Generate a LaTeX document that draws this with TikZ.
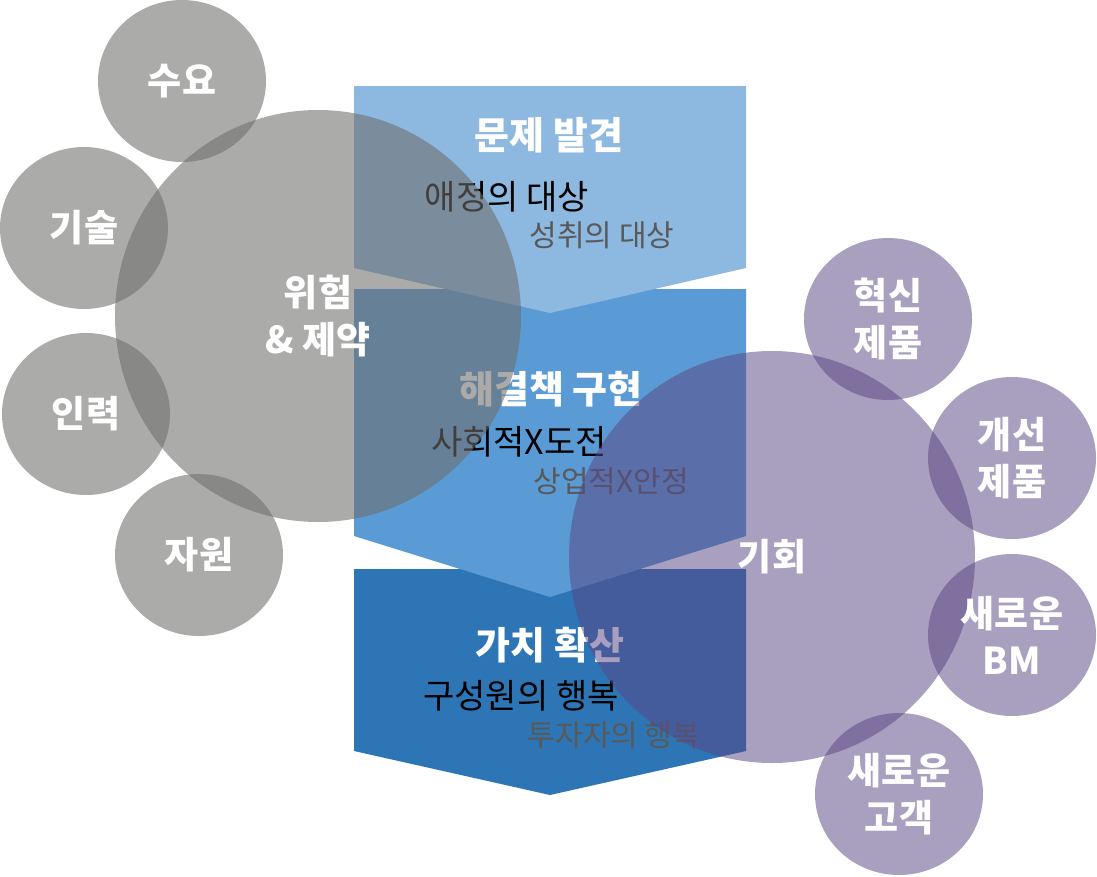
\documentclass[tikz,border=0pt]{standalone}
\usepackage{fontspec}
\setmainfont{Noto Sans CJK KR}
\usetikzlibrary{shapes.geometric}
\definecolor{chevA}{RGB}{141,184,224}
\definecolor{chevB}{RGB}{91,155,213}
\definecolor{chevC}{RGB}{46,117,182}
\definecolor{riskgray}{RGB}{111,110,108}
\definecolor{chancepurple}{RGB}{90,70,132}
\definecolor{subgray}{RGB}{89,89,89}
\begin{document}
\begin{tikzpicture}[x=1pt,y=-1pt,
    head/.style={inner sep=0pt,text=white,font=\fontsize{38}{44}\selectfont\bfseries},
    mainline/.style={inner sep=0pt,text=black,font=\fontsize{34}{40}\selectfont},
    subline/.style={inner sep=0pt,text=subgray,font=\fontsize{30}{36}\selectfont},
    bigblob/.style={ellipse,inner sep=0pt,minimum width=406pt,minimum height=412pt,
        fill opacity=0.58,text opacity=1,text=white,align=center,
        font=\fontsize{37}{47}\selectfont\bfseries},
    smallblob/.style={bigblob,minimum width=168pt,minimum height=162pt}]
    \useasboundingbox (0,0) rectangle (1097,876);
    % chevrons, lowest first so each tip lies on the next one
    \fill[chevC] (354,569) -- (746,569) -- (746,751) -- (550,795) -- (354,751) -- cycle;
    \fill[chevB] (354,289) -- (746,289) -- (746,536) -- (550,597) -- (354,536) -- cycle;
    \fill[chevA] (354,86) -- (746,86) -- (746,268) -- (550,313) -- (354,268) -- cycle;
    \node[head] (prob) at (549,135) {문제 발견};
    \node[mainline] (probA) at (507,197) {애정의 대상};
    \node[subline] (probB) at (602,235) {성취의 대상};
    \node[head] (sol) at (551,389) {해결책 구현};
    \node[mainline] (solA) at (519,442) {사회적X도전};
    \node[subline] (solB) at (611,481) {상업적X안정};
    \node[head] (val) at (550,645) {가치 확산};
    \node[mainline] (valA) at (521,696) {구성원의 행복};
    \node[subline] (valB) at (614,735) {투자자의 행복};
    % risks
    \node[bigblob,fill=riskgray] (risk) at (318,316) {위험\\\& 제약};
    \node[smallblob,fill=riskgray] (demand) at (182,81) {수요};
    \node[smallblob,fill=riskgray] (tech) at (84,228) {기술};
    \node[smallblob,fill=riskgray] (labor) at (86,414) {인력};
    \node[smallblob,fill=riskgray] (resource) at (199,555) {자원};
    % chances
    \node[bigblob,fill=chancepurple,fill opacity=0.52] (chance) at (772,557) {기회};
    \node[smallblob,fill=chancepurple,fill opacity=0.52] (innov) at (888,319) {혁신\\제품};
    \node[smallblob,fill=chancepurple,fill opacity=0.52] (improve) at (1012,458) {개선\\제품};
    \node[smallblob,fill=chancepurple,fill opacity=0.52] (newbm) at (1012,635) {새로운\\BM};
    \node[smallblob,fill=chancepurple,fill opacity=0.52] (newcust) at (899,794) {새로운\\고객};
\end{tikzpicture}
\end{document}
